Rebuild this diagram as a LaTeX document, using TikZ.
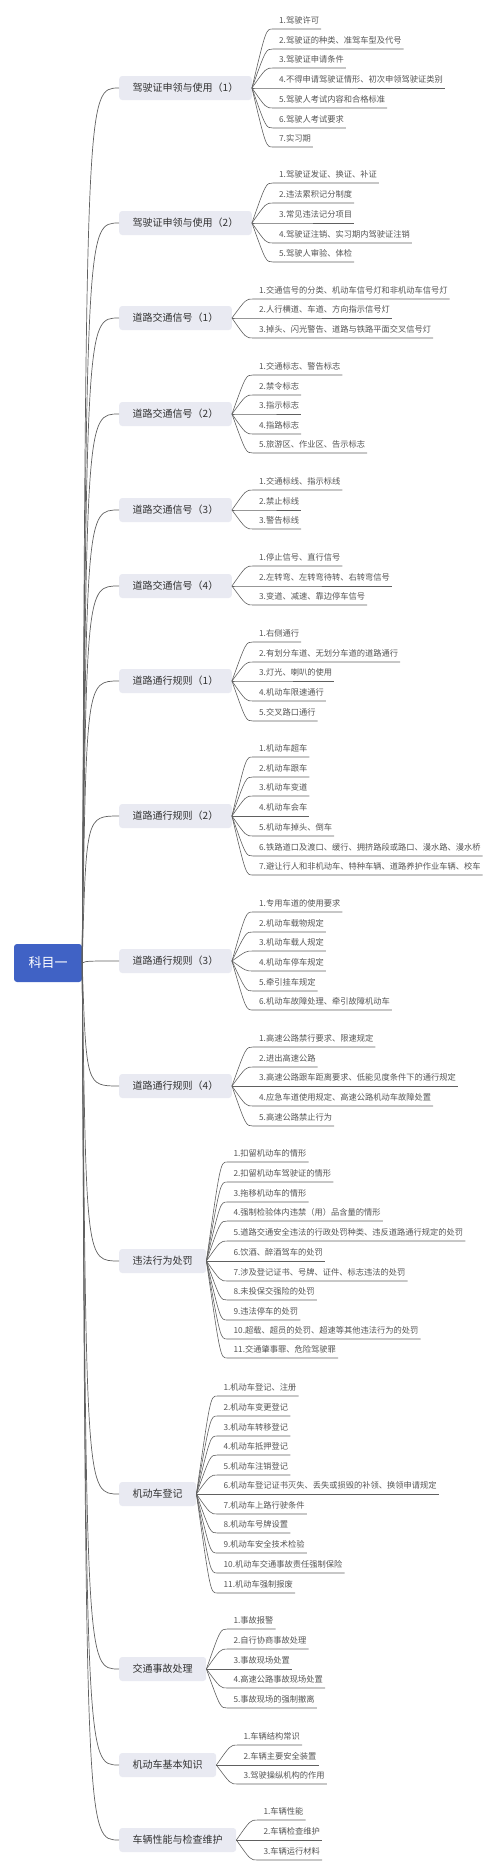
\documentclass[tikz,border=0pt]{standalone}
\usepackage{fontspec}
\setmainfont{Noto Sans CJK SC}
\definecolor{rootblue}{RGB}{64,98,197}
\definecolor{boxgray}{RGB}{233,234,242}
\definecolor{linegray}{RGB}{96,96,96}
\definecolor{textgray}{RGB}{85,85,85}
\definecolor{labelgray}{RGB}{51,51,51}

% leaves of one branch: index/underline y/text
\newcommand{\twigs}[2]{%
  \path (#1.east) ++(21pt,0) coordinate (#1-x);
  \path (#1.east) ++(14pt,0) coordinate (#1-k);
  \foreach \i/\y/\txt in {#2}{%
    \coordinate (#1-\i-s) at (#1-x |- 0,\y);
    \node[leaf, xshift=4pt] (#1-\i) at (#1-\i-s) {\txt};
    \draw[twig] (#1.east) .. controls (#1-k |- #1-\i-s) .. (#1-\i-s)
      -- (#1-\i.south east);
  }}

\begin{document}
\begin{tikzpicture}[x=1pt, y=-1pt,
  root/.style={fill=rootblue, text=white, rounded corners=3pt,
               minimum width=68pt, minimum height=38pt,
               font=\fontsize{13}{15}\selectfont},
  branch/.style={anchor=west, fill=boxgray, text=labelgray, rounded corners=3pt,
                 minimum height=24pt, inner xsep=13.5pt,
                 font=\fontsize{10}{12}\selectfont},
  leaf/.style={anchor=south west, inner xsep=2pt, inner ysep=4pt, text=textgray,
               text height=7pt, text depth=1pt,
               font=\fontsize{8.25}{10}\selectfont},
  limb/.style={draw=linegray, line width=0.7pt},
  twig/.style={draw=linegray, line width=0.6pt}]
  \useasboundingbox (0,0) rectangle (500,1874);

  % Root
  \node[root] (root) at (48,963) {科目一};
  \path (root.east) ++(4pt,0) coordinate (root-k);

  % Branches
  \node[branch] (license1) at (119,88) {驾驶证申领与使用（1）};
  \node[branch] (license2) at (119,223) {驾驶证申领与使用（2）};
  \node[branch] (signal1) at (119,318) {道路交通信号（1）};
  \node[branch] (signal2) at (119,414) {道路交通信号（2）};
  \node[branch] (signal3) at (119,510) {道路交通信号（3）};
  \node[branch] (signal4) at (119,586) {道路交通信号（4）};
  \node[branch] (rule1) at (119,681) {道路通行规则（1）};
  \node[branch] (rule2) at (119,816) {道路通行规则（2）};
  \node[branch] (rule3) at (119,961) {道路通行规则（3）};
  \node[branch] (rule4) at (119,1086) {道路通行规则（4）};
  \node[branch] (penalty) at (119,1261) {违法行为处罚};
  \node[branch] (register) at (119,1494) {机动车登记};
  \node[branch] (accident) at (119,1669) {交通事故处理};
  \node[branch] (vehicle) at (119,1765) {机动车基本知识};
  \node[branch] (upkeep) at (119,1840) {车辆性能与检查维护};

  \foreach \b in {license1, license2, signal1, signal2, signal3, signal4,
                  rule1, rule2, rule3, rule4, penalty, register, accident,
                  vehicle, upkeep}
    \draw[limb] (root.east) .. controls (root-k |- \b.west) .. (\b.west);

  % Leaves
  \twigs{license1}{1/29/1.驾驶许可, 2/49/2.驾驶证的种类、准驾车型及代号,
    3/68/3.驾驶证申请条件, 4/88/4.不得申请驾驶证情形、初次申领驾驶证类别,
    5/108/5.驾驶人考试内容和合格标准, 6/128/6.驾驶人考试要求, 7/147/7.实习期}
  \twigs{license2}{1/183/1.驾驶证发证、换证、补证, 2/203/2.违法累积记分制度,
    3/223/3.常见违法记分项目, 4/243/4.驾驶证注销、实习期内驾驶证注销,
    5/262/5.驾驶人审验、体检}
  \twigs{signal1}{1/299/1.交通信号的分类、机动车信号灯和非机动车信号灯,
    2/318/2.人行横道、车道、方向指示信号灯,
    3/338/3.掉头、闪光警告、道路与铁路平面交叉信号灯}
  \twigs{signal2}{1/375/1.交通标志、警告标志, 2/395/2.禁令标志, 3/414/3.指示标志,
    4/434/4.指路标志, 5/453/5.旅游区、作业区、告示标志}
  \twigs{signal3}{1/490/1.交通标线、指示标线, 2/510/2.禁止标线, 3/529/3.警告标线}
  \twigs{signal4}{1/566/1.停止信号、直行信号, 2/586/2.左转弯、左转弯待转、右转弯信号,
    3/605/3.变道、减速、靠边停车信号}
  \twigs{rule1}{1/642/1.右侧通行, 2/662/2.有划分车道、无划分车道的道路通行,
    3/681/3.灯光、喇叭的使用, 4/701/4.机动车限速通行, 5/721/5.交叉路口通行}
  \twigs{rule2}{1/757/1.机动车超车, 2/777/2.机动车跟车, 3/796/3.机动车变道,
    4/816/4.机动车会车, 5/836/5.机动车掉头、倒车,
    6/856/6.铁路道口及渡口、缓行、拥挤路段或路口、漫水路、漫水桥,
    7/875/7.避让行人和非机动车、特种车辆、道路养护作业车辆、校车}
  \twigs{rule3}{1/912/1.专用车道的使用要求, 2/932/2.机动车载物规定,
    3/951/3.机动车载人规定, 4/971/4.机动车停车规定, 5/991/5.牵引挂车规定,
    6/1010/6.机动车故障处理、牵引故障机动车}
  \twigs{rule4}{1/1047/1.高速公路禁行要求、限速规定, 2/1067/2.进出高速公路,
    3/1086/3.高速公路跟车距离要求、低能见度条件下的通行规定,
    4/1106/4.应急车道使用规定、高速公路机动车故障处置,
    5/1126/5.高速公路禁止行为}
  \twigs{penalty}{1/1162/1.扣留机动车的情形, 2/1182/2.扣留机动车驾驶证的情形,
    3/1202/3.拖移机动车的情形, 4/1221/4.强制检验体内违禁（用）品含量的情形,
    5/1241/5.道路交通安全违法的行政处罚种类、违反道路通行规定的处罚,
    6/1261/6.饮酒、醉酒驾车的处罚, 7/1281/7.涉及登记证书、号牌、证件、标志违法的处罚,
    8/1300/8.未投保交强险的处罚, 9/1320/9.违法停车的处罚,
    10/1339/10.超载、超员的处罚、超速等其他违法行为的处罚,
    11/1358/11.交通肇事罪、危险驾驶罪}
  \twigs{register}{1/1396/1.机动车登记、注册, 2/1416/2.机动车变更登记,
    3/1436/3.机动车转移登记, 4/1455/4.机动车抵押登记, 5/1475/5.机动车注销登记,
    6/1494/6.机动车登记证书灭失、丢失或损毁的补领、换领申请规定,
    7/1514/7.机动车上路行驶条件, 8/1533/8.机动车号牌设置,
    9/1553/9.机动车安全技术检验, 10/1573/10.机动车交通事故责任强制保险,
    11/1593/11.机动车强制报废}
  \twigs{accident}{1/1629/1.事故报警, 2/1649/2.自行协商事故处理, 3/1669/3.事故现场处置,
    4/1688/4.高速公路事故现场处置, 5/1708/5.事故现场的强制撤离}
  \twigs{vehicle}{1/1745/1.车辆结构常识, 2/1765/2.车辆主要安全装置,
    3/1784/3.驾驶操纵机构的作用}
  \twigs{upkeep}{1/1820/1.车辆性能, 2/1840/2.车辆检查维护, 3/1860/3.车辆运行材料}
\end{tikzpicture}
\end{document}
